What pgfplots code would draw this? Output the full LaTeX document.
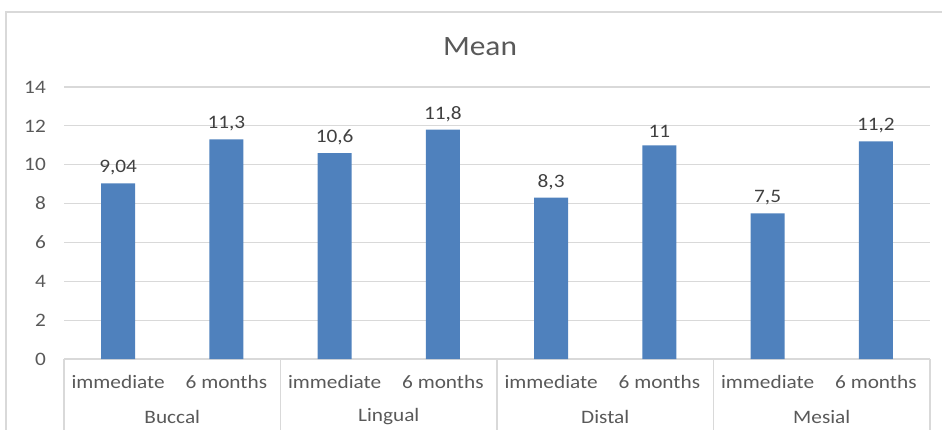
\documentclass[border=0pt]{standalone}
\usepackage{fontspec}
\setmainfont{Carlito}[FakeStretch=1.12]
\usepackage{pgfplots}
\pgfplotsset{compat=1.18}
\usepackage{pgfplotstable}

\definecolor{barblue}{HTML}{4F81BD}
\definecolor{gridgray}{HTML}{D9D9D9}
\definecolor{labelgray}{HTML}{595959}
\definecolor{valgray}{HTML}{404040}

\pgfplotstableread{
x y label
0 9.04 {9,04}
1 11.3 {11,3}
2 10.6 {10,6}
3 11.8 {11,8}
4 8.3 {8,3}
5 11 {11}
6 7.5 {7,5}
7 11.2 {11,2}
}\meandata

\begin{document}
\begin{tikzpicture}
\useasboundingbox (0,0) rectangle (942bp,430bp);
\clip (0,0) rectangle (942bp,430bp);
% outer chart frame (cut at right and bottom)
\draw[gridgray, line width=1.5bp] (6bp,-10bp) -- (6bp,418bp) -- (960bp,418bp);
\node[font=\fontsize{28bp}{32bp}\selectfont, text=labelgray] at (480bp,383bp) {Mean};
\begin{axis}[
  at={(64bp,71bp)}, anchor=south west,
  scale only axis, width=866bp, height=272bp,
  xmin=-0.5, xmax=7.5, ymin=0, ymax=14,
  ytick={0,2,...,14},
  xtick={0,...,7},
  xticklabels={immediate,6 months,immediate,6 months,immediate,6 months,immediate,6 months},
  axis line style={draw=none},
  major tick length=0pt,
  ymajorgrids,
  grid style={gridgray, line width=1.2bp},
  /pgf/number format/assume math mode=true,
  yticklabel style={font=\fontsize{19bp}{22bp}\selectfont, text=labelgray, anchor=east, inner sep=0pt, xshift=-18bp},
  xticklabel style={font=\fontsize{19bp}{22bp}\selectfont, text=labelgray, anchor=center, inner sep=0pt, yshift=-23bp},
  clip=false,
  ybar, bar width=0.314,
  nodes near coords,
  point meta=explicit symbolic,
  every node near coord/.append style={font=\fontsize{19bp}{22bp}\selectfont, text=valgray, inner sep=0pt, anchor=south, yshift=8bp},
]
\addplot[fill=barblue, draw=none] table[x=x, y=y, meta=label] {\meandata};
\pgfplotsinvokeforeach{-0.5,1.5,3.5,5.5,7.5}{
  \draw[gridgray, line width=1.2bp] (axis cs:#1,0) -- ([yshift=-80bp]axis cs:#1,0);
}
\node[font=\fontsize{19bp}{22bp}\selectfont, text=labelgray] at (axis cs:0.5,0) [yshift=-58bp] {Buccal};
\node[font=\fontsize{19bp}{22bp}\selectfont, text=labelgray] at (axis cs:2.5,0) [yshift=-58bp] {Lingual};
\node[font=\fontsize{19bp}{22bp}\selectfont, text=labelgray] at (axis cs:4.5,0) [yshift=-58bp] {Distal};
\node[font=\fontsize{19bp}{22bp}\selectfont, text=labelgray] at (axis cs:6.5,0) [yshift=-58bp] {Mesial};
\end{axis}
\end{tikzpicture}
\end{document}
